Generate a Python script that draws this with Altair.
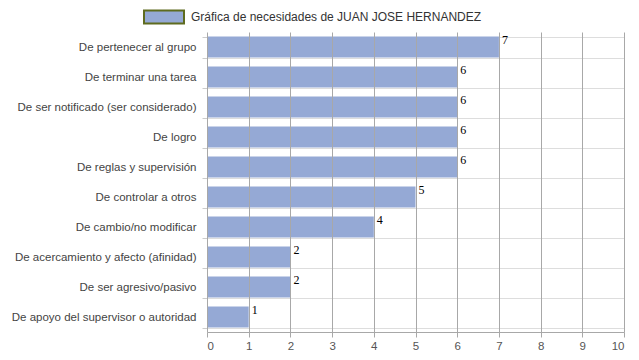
import altair as alt
import pandas as pd

categories = [
    "De pertenecer al grupo",
    "De terminar una tarea",
    "De ser notificado (ser considerado)",
    "De logro",
    "De reglas y supervisión",
    "De controlar a otros",
    "De cambio/no modificar",
    "De acercamiento y afecto (afinidad)",
    "De ser agresivo/pasivo",
    "De apoyo del supervisor o autoridad",
]
values = [7, 6, 6, 6, 6, 5, 4, 2, 2, 1]
series_name = "Gráfica de necesidades de JUAN JOSE HERNANDEZ"

df = pd.DataFrame({"cat": categories, "val": values, "serie": [series_name] * len(values)})

y_enc = alt.Y(
    "cat:N",
    sort=categories,
    title=None,
    scale=alt.Scale(paddingInner=0.3, paddingOuter=0.15),
    axis=alt.Axis(
        tickBand="extent",
        grid=True,
        gridColor="#dddddd",
        domain=False,
        tickColor="#cccccc",
        tickSize=5,
        labelFont="Liberation Sans",
        labelFontSize=11.5,
        labelColor="#444444",
        labelPadding=6,
        labelLimit=300,
    ),
)

x_enc = alt.X(
    "val:Q",
    title=None,
    scale=alt.Scale(domain=[0, 10], nice=False),
    axis=alt.Axis(
        values=list(range(0, 11)),
        grid=True,
        gridColor="#a8a8a8",
        domainColor="#a8a8a8",
        tickColor="#a8a8a8",
        tickSize=5,
        labelFont="Liberation Sans",
        labelFontSize=11.5,
        labelColor="#555555",
        labelPadding=3,
        zindex=1,
    ),
)

bars = alt.Chart(df).mark_bar(color="#95a9d5").encode(
    x=x_enc,
    y=y_enc,
    color=alt.Color(
        "serie:N",
        scale=alt.Scale(range=["#95a9d5"]),
        legend=alt.Legend(
            title=None,
            orient="none",
            legendX=-64,
            legendY=-36,
            symbolType="M-1,-0.32L1,-0.32L1,0.32L-1,0.32Z",
            symbolSize=1600,
            symbolStrokeColor="#5e6b1f",
            symbolStrokeWidth=2,
            symbolOpacity=1,
            labelFont="Liberation Sans",
            labelFontSize=12,
            labelColor="#333333",
            labelLimit=500,
            labelOffset=6,
        ),
    ),
)

labels = alt.Chart(df).mark_text(
    align="left", baseline="top", dx=3, dy=-12,
    font="Liberation Serif", fontSize=12, color="#000000",
).encode(
    x="val:Q",
    y=alt.Y("cat:N", sort=categories),
    text="val:Q",
)

chart = (bars + labels).properties(
    width=417,
    height=300,
    autosize=alt.AutoSizeParams(type="none"),
    padding={"left": 199, "top": 24, "right": 7, "bottom": 20},
).configure_view(stroke=None)

chart.save("out.html", embed_options={"renderer": "svg", "actions": False})
